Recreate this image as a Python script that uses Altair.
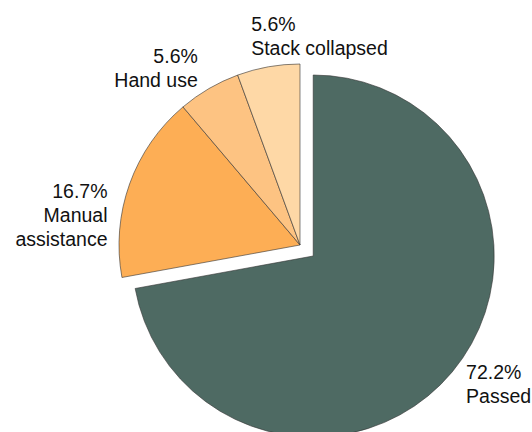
import math
import altair as alt
import pandas as pd

# ---- data ----
categories = ["Passed", "Manual assistance", "Hand use", "Stack collapsed"]
percents = [72.2, 16.7, 5.6, 5.6]
label_lines = [["72.2%", "Passed"],
               ["16.7%", "Manual", "assistance"],
               ["5.6%", "Hand use"],
               ["5.6%", "Stack collapsed"]]
colors = ["#4e6a63", "#fdae55", "#fdc382", "#fed8a6"]
explode = [0.095, 0.0, 0.0, 0.0]

# ---- layout / style ----
W, H = 532, 432
CX, CY = 300, 245
R = 181
LABEL_DIST = 1.1
LINE_H = 24
label_align = ["left", "right", "right", "left"]
label_nudge = [(0, 1), (-5, 38), (-2, -4), (-14, -12)]  # (dx, dy) px

total = sum(percents)
rows = []
acc = 0.0
for i, c in enumerate(categories):
    a0 = 2 * math.pi * acc / total
    acc += percents[i]
    a1 = 2 * math.pi * acc / total
    mid = (a0 + a1) / 2
    cx = CX + explode[i] * R * math.sin(mid)
    cy = CY - explode[i] * R * math.cos(mid)
    lx = cx + LABEL_DIST * R * math.sin(mid) + label_nudge[i][0]
    ly = cy - LABEL_DIST * R * math.cos(mid) + label_nudge[i][1]
    # vertically centre the multi-line block on the anchor
    ly -= (len(label_lines[i]) - 1) * LINE_H / 2
    rows.append(dict(cat=c, a0=a0, a1=a1, cx=cx, cy=cy, lx=lx, ly=ly,
                     label=label_lines[i], align=label_align[i]))
df = pd.DataFrame(rows)

base = alt.Chart(df)

arcs = base.mark_arc(radius=R, stroke="#333333", strokeWidth=0.6).encode(
    theta=alt.Theta("a0:Q", scale=None),
    theta2="a1:Q",
    x=alt.X("cx:Q", scale=None),
    y=alt.Y("cy:Q", scale=None),
    color=alt.Color("cat:N", scale=alt.Scale(domain=categories, range=colors), legend=None),
)

def text_layer(al):
    return base.transform_filter(alt.datum.align == al).mark_text(
        align=al, baseline="middle", font="Liberation Sans", fontSize=19.5,
        lineHeight=LINE_H, color="#111111",
    ).encode(
        x=alt.X("lx:Q", scale=None),
        y=alt.Y("ly:Q", scale=None),
        text="label",
    )

chart = alt.layer(arcs, text_layer("left"), text_layer("right")).properties(
    width=W, height=H, padding=0, autosize="none",
).configure_view(stroke=None)

chart.save("out.html", embed_options={"renderer": "svg", "actions": False})
